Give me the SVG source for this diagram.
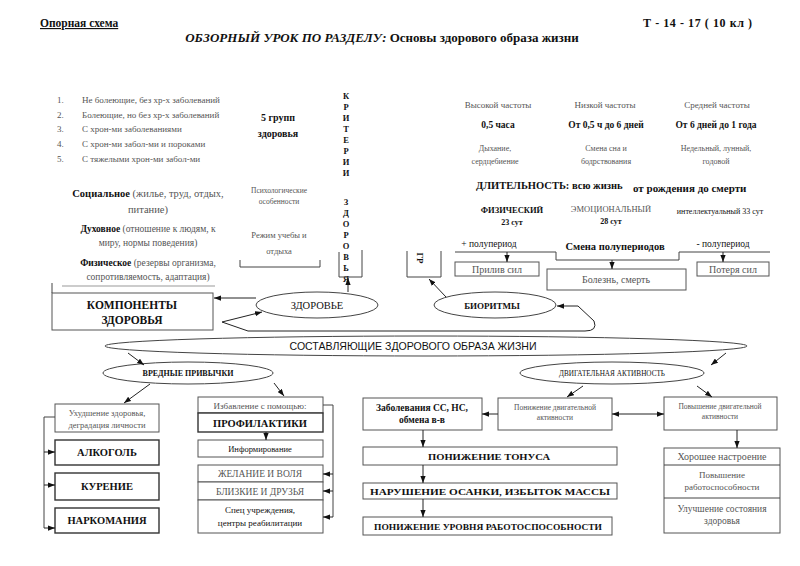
<svg xmlns="http://www.w3.org/2000/svg" width="800" height="566" viewBox="0 0 800 566" font-family="'Liberation Serif','Times New Roman',serif">
<defs>
<marker id="ah" viewBox="0 0 8 6" refX="8" refY="3" markerWidth="7" markerHeight="5.5" markerUnits="userSpaceOnUse" orient="auto-start-reverse"><path d="M0,0 L8,3 L0,6 z" fill="#111"/></marker>
</defs>
<style>
text{font-family:"Liberation Serif","Times New Roman",serif;fill:#111}
.g{fill:#555}
.b{font-weight:bold}
.c{text-anchor:middle}
.box{fill:#fff;stroke:#555;stroke-width:1}
.bb{fill:#fff;stroke:#333;stroke-width:1.4}
.ell{fill:#fff;stroke:#444;stroke-width:1}
.ln{fill:none;stroke:#444;stroke-width:1}
.ar{fill:none;stroke:#222;stroke-width:1;marker-end:url(#ah)}
.sans{font-family:"Liberation Sans",Arial,sans-serif}
</style>
<rect width="800" height="566" fill="#fff"/>

<g id="header">
<text x="40" y="27" font-size="11.5" class="b" text-decoration="underline">Опорная схема</text>
<text x="752" y="27" font-size="12" class="b" text-anchor="end" textLength="109" lengthAdjust="spacing">Т - 14 - 17 ( 10 кл )</text>
<text x="382" y="42" font-size="13" class="b c"><tspan font-style="italic">ОБЗОРНЫЙ УРОК ПО РАЗДЕЛУ:</tspan> Основы здорового образа жизни</text>
</g>

<g id="groups-list" font-size="9">
<text x="57" y="103" class="g">1.</text><text x="82" y="103" class="g">Не болеющие, без хр-х заболеваний</text>
<text x="57" y="118" class="g">2.</text><text x="82" y="118" class="g">Болеющие, но без хр-х заболеваний</text>
<text x="57" y="132" class="g">3.</text><text x="82" y="132" class="g">С хрон-ми заболеваниями</text>
<text x="57" y="147" class="g">4.</text><text x="82" y="147" class="g">С хрон-ми забол-ми и пороками</text>
<text x="57" y="162" class="g">5.</text><text x="82" y="162" class="g">С тяжелыми хрон-ми забол-ми</text>
</g>

<g id="five-groups" font-size="10">
<text x="278" y="121" class="b c">5 групп</text>
<text x="278" y="137" class="b c">здоровья</text>
</g>

<g id="criteria" font-size="8.5">
<text x="346" y="99" class="b c">К</text><text x="346" y="110" class="b c">Р</text><text x="346" y="121" class="b c">И</text><text x="346" y="132" class="b c">Т</text><text x="346" y="143" class="b c">Е</text><text x="346" y="154" class="b c">Р</text><text x="346" y="165" class="b c">И</text><text x="346" y="176" class="b c">И</text>
<text x="346" y="205" class="b c">З</text><text x="346" y="216" class="b c">Д</text><text x="346" y="227" class="b c">О</text><text x="346" y="238" class="b c">Р</text><text x="346" y="249" class="b c">О</text><text x="346" y="260" class="b c">В</text><text x="346" y="271" class="b c">Ь</text><text x="346" y="282" class="b c">Я</text>
<path class="ln" d="M339,252 V277 H362 V250"/>
</g>

<g id="psych">
<text x="279" y="193" font-size="7.5" class="g c">Психологические</text>
<text x="279" y="204" font-size="7.5" class="g c">особенности</text>
<text x="279" y="238" font-size="8.5" class="g c">Режим учебы и</text>
<text x="279" y="254" font-size="8.5" class="g c">отдыха</text>
<path class="ln" d="M240,260 V267 H320 V260"/>
</g>

<g id="components-text">
<text x="148" y="197" font-size="10.5" class="g c"><tspan class="b" fill="#111">Социальное</tspan> (жилье, труд, отдых,</text>
<text x="148" y="213" font-size="10.5" class="g c">питание)</text>
<text x="148" y="232" font-size="9.5" class="g c"><tspan class="b" fill="#111">Духовное</tspan> (отношение к людям, к</text>
<text x="148" y="246" font-size="9.5" class="g c">миру, нормы поведения)</text>
<text x="148" y="266" font-size="9.5" class="g c"><tspan class="b" fill="#111">Физическое</tspan> (резервы организма,</text>
<text x="148" y="280" font-size="9.5" class="g c">сопротивляемость, адаптация)</text>
<path d="M62,286 H215" stroke="#999" stroke-width="1"/>
</g>

<g id="rhythms-text">
<text x="498" y="108" font-size="9" class="g c">Высокой частоты</text>
<text x="605" y="108" font-size="9" class="g c">Низкой частоты</text>
<text x="717" y="108" font-size="9" class="g c">Средней частоты</text>
<text x="498" y="128" font-size="9.5" class="b c">0,5 часа</text>
<text x="606" y="128" font-size="9.5" class="b c">От 0,5 ч до 6 дней</text>
<text x="716" y="128" font-size="9.5" class="b c">От 6 дней до 1 года</text>
<text x="495" y="151" font-size="8" class="g c">Дыхание,</text>
<text x="495" y="164" font-size="8" class="g c">сердцебиение</text>
<text x="606" y="151" font-size="8" class="g c">Смена сна и</text>
<text x="606" y="164" font-size="8" class="g c">бодрствования</text>
<text x="716" y="151" font-size="8" class="g c">Недельный, лунный,</text>
<text x="716" y="164" font-size="8" class="g c">годовой</text>
<text x="476" y="189" font-size="10.5" class="b">ДЛИТЕЛЬНОСТЬ: всю жизнь</text>
<text x="633" y="192" font-size="11" class="b">от рождения до смерти</text>
<text x="512" y="213" font-size="8.5" class="b c">ФИЗИЧЕСКИЙ</text>
<text x="512" y="225" font-size="8" class="b c">23 сут</text>
<text x="611" y="212" font-size="8.5" class="g c">ЭМОЦИОНАЛЬНЫЙ</text>
<text x="611" y="224" font-size="8" class="b c">28 сут</text>
<text x="720" y="214" font-size="8" class="c">интеллектуальный 33 сут</text>
<text x="489" y="247" font-size="9.5" class="c">+ полупериод</text>
<text x="615" y="250" font-size="10.5" class="b c">Смена полупериодов</text>
<text x="723" y="247" font-size="9.5" class="c">- полупериод</text>
</g>

<g id="gr">
<path class="ln" d="M407,251 V277 H441 V251"/>
<text transform="translate(417,258) rotate(90)" font-size="9" class="b c">ГР</text>
</g>

<g id="priliv"><rect class="box" x="455" y="262" width="84" height="14"/><text x="497" y="273" font-size="10" class="g c">Прилив сил</text></g>
<g id="bolezn"><rect class="box" x="547" y="269" width="139" height="21"/><text x="616" y="283" font-size="10" class="g c">Болезнь, смерть</text></g>
<g id="poterya"><rect class="box" x="697" y="262" width="72" height="14"/><text x="733" y="273" font-size="10" class="g c">Потеря сил</text></g>

<g id="komponenty"><rect class="box" x="52" y="293" width="161" height="37"/><text x="132" y="309" font-size="11.5" class="b c">КОМПОНЕНТЫ</text><text x="132" y="324" font-size="11.5" class="b c">ЗДОРОВЬЯ</text></g>
<g id="zdorovye"><ellipse class="ell" cx="317" cy="305" rx="61" ry="13"/><text x="317" y="309" font-size="10.5" class="c">ЗДОРОВЬЕ</text></g>
<g id="bioritmy"><ellipse class="ell" cx="495" cy="305" rx="61" ry="13"/><text x="492" y="309" font-size="9" class="b c">БИОРИТМЫ</text></g>

<g id="sostav"><ellipse class="ell" cx="426" cy="346" rx="321" ry="10"/><text x="413" y="350" font-size="10.5" class="sans c" textLength="247" lengthAdjust="spacingAndGlyphs">СОСТАВЛЯЮЩИЕ ЗДОРОВОГО ОБРАЗА ЖИЗНИ</text></g>
<g id="vrednye"><ellipse class="ell" cx="188" cy="373" rx="85" ry="11"/><text x="188" y="376" font-size="8" class="b c">ВРЕДНЫЕ ПРИВЫЧКИ</text></g>
<g id="dvig"><ellipse class="ell" cx="612" cy="373" rx="92" ry="11"/><text x="612" y="376" font-size="7.5" class="c" textLength="106" lengthAdjust="spacingAndGlyphs">ДВИГАТЕЛЬНАЯ АКТИВНОСТЬ</text></g>

<g id="uhudshenie"><rect class="box" x="55" y="404" width="104" height="28"/><text x="107" y="416" font-size="8.5" class="g c">Ухудшение здоровья,</text><text x="107" y="428" font-size="8.5" class="g c">деградация личности</text></g>
<g id="alkogol"><rect class="bb" x="55" y="440" width="104" height="25"/><text x="107" y="456" font-size="10.5" class="b c">АЛКОГОЛЬ</text></g>
<g id="kurenie"><rect class="bb" x="55" y="473" width="104" height="27"/><text x="107" y="490" font-size="10.5" class="b c">КУРЕНИЕ</text></g>
<g id="narkomania"><rect class="bb" x="55" y="508" width="104" height="25"/><text x="107" y="524" font-size="10.5" class="b c">НАРКОМАНИЯ</text></g>

<g id="izbavlenie"><rect class="box" x="198" y="397" width="125" height="16"/><text x="260" y="408.5" font-size="9" class="g c">Избавление с помощью:</text></g>
<g id="profilaktika"><rect class="bb" x="198" y="413" width="125" height="19"/><text x="260" y="427" font-size="10.5" class="b c">ПРОФИЛАКТИКИ</text></g>
<g id="inform"><rect class="box" x="198" y="440" width="125" height="17"/><text x="260" y="451.5" font-size="8.5" class="c">Информирование</text></g>
<g id="zhelanie"><rect class="box" x="198" y="465" width="125" height="17"/><text x="260" y="477" font-size="9.5" class="g c">ЖЕЛАНИЕ И ВОЛЯ</text></g>
<g id="blizkie"><rect class="box" x="198" y="482" width="125" height="18"/><text x="260" y="494.5" font-size="9.5" class="g c">БЛИЗКИЕ И ДРУЗЬЯ</text></g>
<g id="spec"><rect class="box" x="198" y="500" width="125" height="33"/><text x="260" y="513" font-size="9" class="c">Спец учреждения,</text><text x="260" y="526" font-size="9" class="c">центры реабилитации</text></g>

<g id="zabolevaniya"><rect class="box" x="363" y="398" width="119" height="32"/><text x="422" y="411" font-size="9.5" class="b c">Заболевания СС, НС,</text><text x="422" y="423" font-size="9.5" class="b c">обмена в-в</text></g>
<g id="ponizhenie-dvig"><rect class="box" x="498" y="398" width="114" height="32"/><text x="555" y="410" font-size="7.5" class="g c">Понижение двигательной</text><text x="555" y="420" font-size="7.5" class="g c">активности</text></g>
<g id="tonus"><rect class="box" x="363" y="447" width="254" height="18"/><text x="489" y="460" font-size="9" class="b c" textLength="122" lengthAdjust="spacingAndGlyphs">ПОНИЖЕНИЕ ТОНУСА</text></g>
<g id="osanka"><rect class="box" x="363" y="483" width="254" height="16"/><text x="490" y="495" font-size="9" class="b c" textLength="240" lengthAdjust="spacingAndGlyphs">НАРУШЕНИЕ ОСАНКИ, ИЗБЫТОК МАССЫ</text></g>
<g id="rabotosp"><rect class="box" x="363" y="517" width="249" height="18"/><text x="488" y="530" font-size="8.5" class="b c" textLength="228" lengthAdjust="spacingAndGlyphs">ПОНИЖЕНИЕ УРОВНЯ РАБОТОСПОСОБНОСТИ</text></g>

<g id="povyshenie"><rect class="box" x="664" y="397" width="113" height="33"/><text x="720" y="409" font-size="7.5" class="g c">Повышение двигательной</text><text x="720" y="419" font-size="7.5" class="g c">активности</text></g>
<g id="result"><rect class="box" x="664" y="448" width="116" height="85"/><path class="ln" d="M664,465 H780 M664,498 H780"/>
<text x="722" y="460" font-size="10" class="g c">Хорошее настроение</text>
<text x="722" y="478" font-size="9" class="g c">Повышение</text><text x="722" y="490" font-size="9" class="g c">работоспособности</text>
<text x="722" y="512" font-size="9.5" class="g c">Улучшение состояния</text><text x="722" y="524" font-size="9.5" class="g c">здоровья</text></g>

<g id="connectors">
<path class="ln" d="M52,283 V293"/>
<path class="ar" d="M348,292 V278"/>
<path class="ar" d="M446,297 L429,279"/>
<path class="ln" d="M455,252 H556 V260 H679 V252 H770"/>
<path class="ar" d="M507,252 V262"/>
<path class="ar" d="M612,260 V269"/>
<path class="ar" d="M723,252 V262"/>
<path class="ar" d="M256,298 H214"/>
<path class="ar" d="M222,322 L262,312"/>
<path class="ar" d="M222,322 L248,331 H585 Q598,331 594,321 L578,306 H557"/>
<path class="ar" d="M128,353 L144,365"/>
<path class="ar" d="M726,353 L711,365"/>
<path class="ar" d="M150,384 L124,403"/>
<path class="ar" d="M274,383 L284,396"/>
<path class="ln" d="M55,417 H44 V528"/>
<path class="ar" d="M44,452 H55"/>
<path class="ar" d="M44,485 H55"/>
<path class="ar" d="M44,528 H55"/>
<path class="ar" d="M266,432 V440"/>
<path class="ln" d="M323,405 H333 V517"/>
<path class="ar" d="M333,474 H323"/>
<path class="ar" d="M333,491 H323"/>
<path class="ar" d="M333,517 H323"/>
<path class="ar" d="M583,386 L567,397"/>
<path class="ar" d="M697,386 L712,397"/>
<path class="ar" d="M498,414 H482"/>
<path class="ar" d="M638,414 H612"/>
<path class="ar" d="M638,414 H664"/>
<path class="ar" d="M423,430 V447"/>
<path class="ar" d="M423,465 V483"/>
<path class="ar" d="M423,499 V517"/>
<path class="ar" d="M737,430 V448"/>
</g>
</svg>
